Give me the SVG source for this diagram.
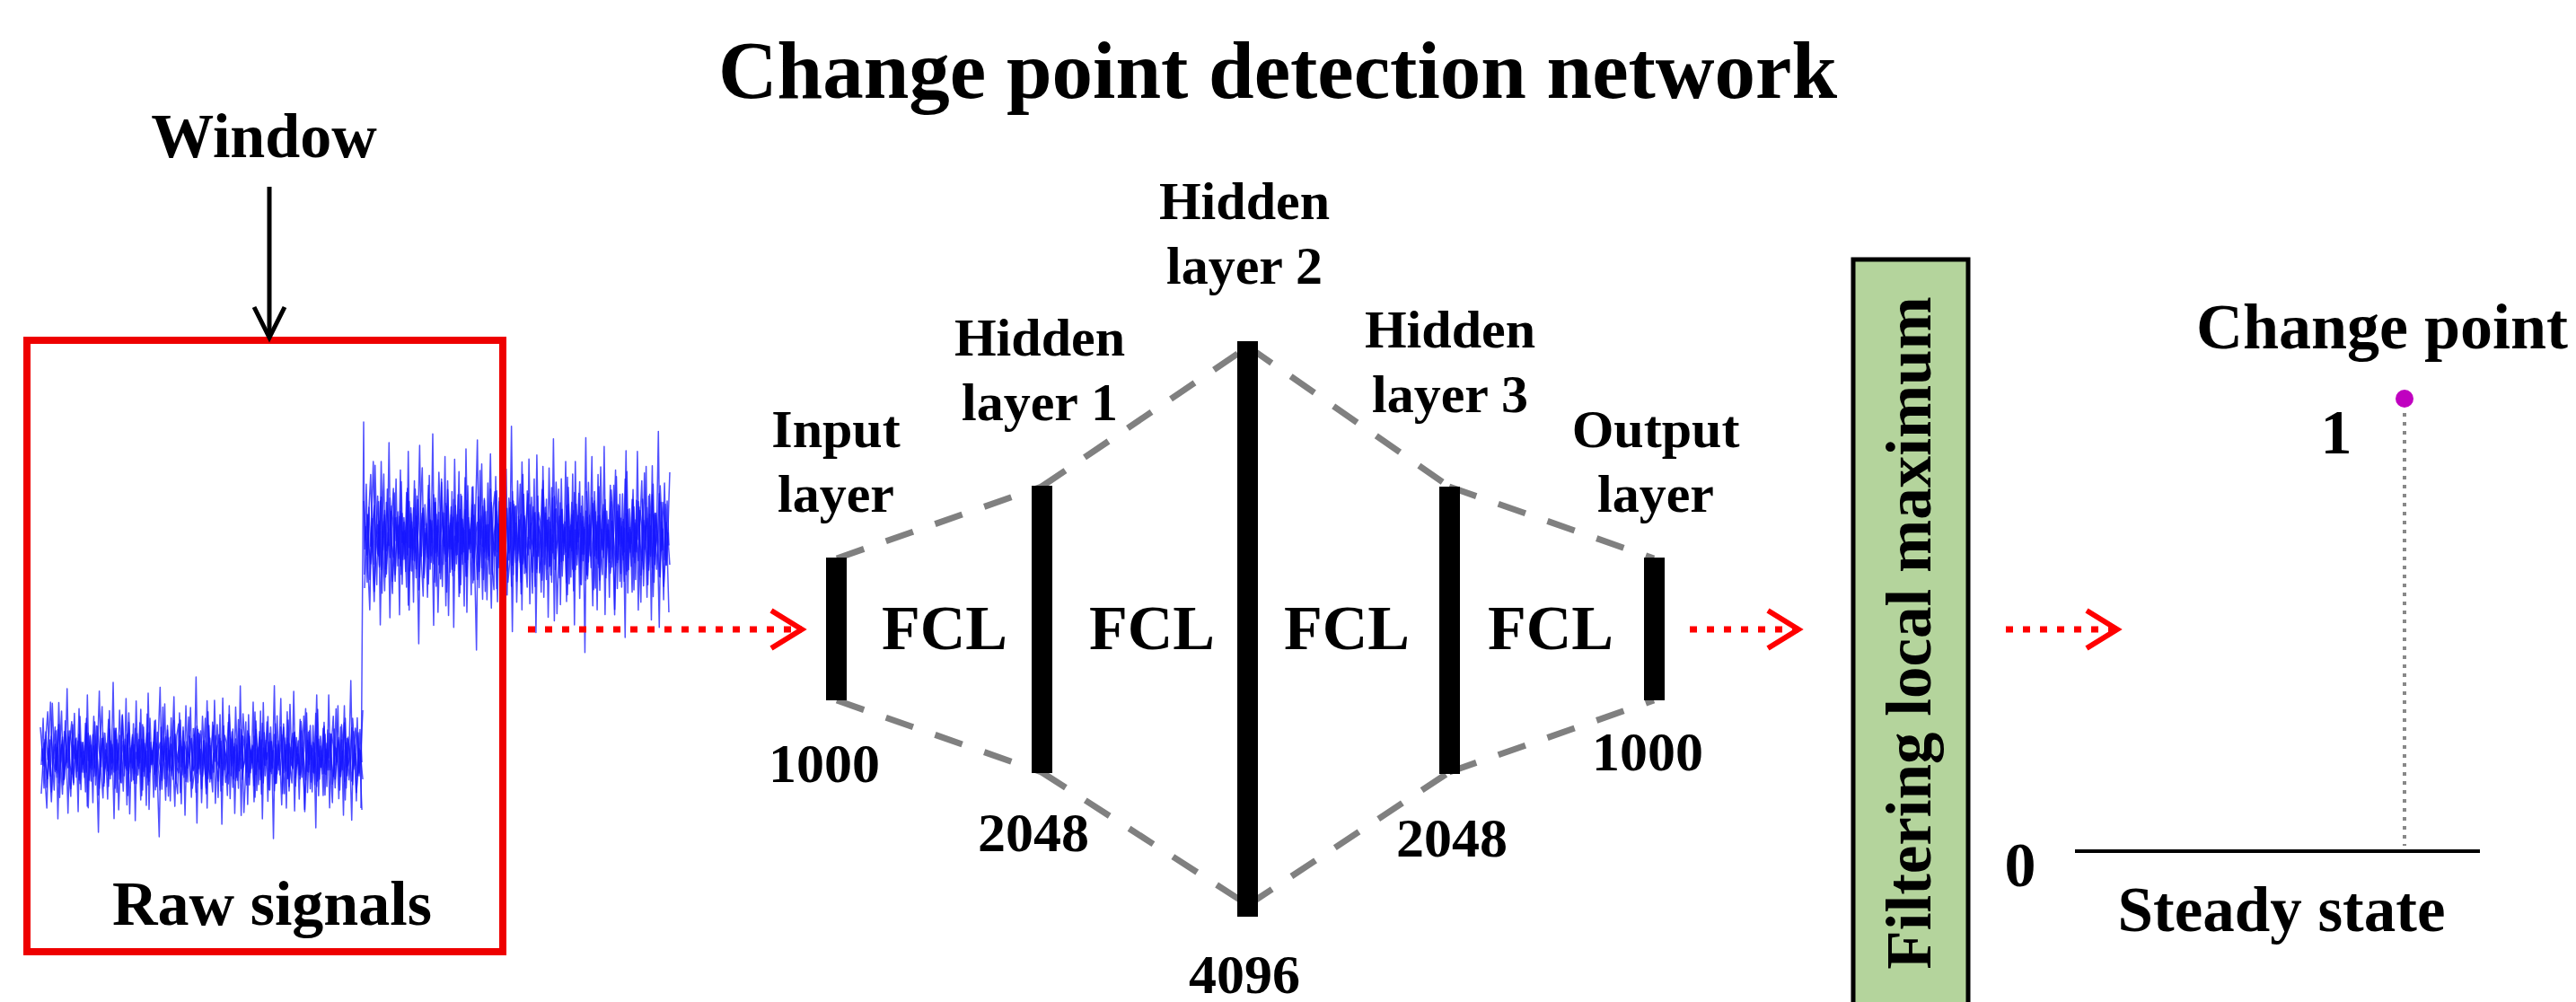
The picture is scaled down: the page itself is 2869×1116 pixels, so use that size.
<svg xmlns="http://www.w3.org/2000/svg" xmlns:xlink="http://www.w3.org/1999/xlink" width="2869" height="1116" viewBox="0 0 2869 1116">
<style>
text{font-family:"Liberation Serif","Times New Roman",serif;font-weight:bold;fill:#000;text-anchor:middle}
.big{font-size:70px}
.lbl{font-size:60px}
.num{font-size:62px}
.bar{fill:#000}
.dash{stroke:#808080;stroke-width:7;stroke-dasharray:32 26;fill:none}
.red{stroke:#ff0000;stroke-width:7;stroke-dasharray:8 11;fill:none}
.sig{fill:none;stroke:#1515ff;stroke-width:1.5;stroke-opacity:0.75;vector-effect:non-scaling-stroke;stroke-linejoin:round}
</style>
<defs>
<marker id="redHead" markerUnits="userSpaceOnUse" markerWidth="60" markerHeight="70" viewBox="-45 -35 60 70" refX="0" refY="0" orient="auto">
<path d="M-34,-21 L0,0 L-34,21" fill="none" stroke="#ff0000" stroke-width="6" stroke-dasharray="none"/>
</marker>
<marker id="blackHead" markerUnits="userSpaceOnUse" markerWidth="60" markerHeight="60" viewBox="-45 -30 60 60" refX="0" refY="0" orient="auto">
<path d="M-34,-17 L0,0 L-34,17" fill="none" stroke="#000" stroke-width="5"/>
</marker>
<polyline id="noise" class="sig" points="0,10 2,-42 4,25 6,58 8,-15 10,-60 12,5 14,38 16,-28 18,70 20,-8 22,-50 24,32 26,12 28,-75 30,20 32,45 34,-35 36,3 38,-20 40,62 42,-44 44,18 46,-5 48,40 50,-68 52,27 54,-12 56,52 58,-38 60,8 62,85 64,-22 66,-55 68,30 70,-3 72,48 74,-30 76,15 78,-82 80,36 82,-18 84,60 86,4 88,-46 90,22 92,-64 94,44 96,-9 98,28 100,-36 102,72 104,-25 106,14 108,-52 110,38 112,-14 114,55 116,-70 118,18 120,-6 122,46 124,-40 126,24 128,90 130,-32 132,6 134,-58 136,34 138,-20 140,50 142,-10 144,-66 146,26 148,42 150,-48 152,12 154,-28 156,66 158,-16 160,2 162,-54 164,36 166,20 168,-88 170,30 172,-24 174,52 176,-4 178,-42 180,58 182,-34 184,16 186,40 188,-62 190,10 192,28 194,-46 196,76 198,-18 200,-2 202,44 204,-56 206,22 208,-30 210,64 212,-12 214,36 216,-78 218,26 220,8 222,-38 224,54 226,-22 228,14 230,-60 232,46 234,-8 236,32 238,-50 240,70 242,-26 244,4 246,-44 248,38 250,-16 252,92 254,-36 256,20 258,-4 260,-64 262,42 264,-20 266,58 268,-40 270,12 272,30 274,-72 276,24 278,-10 280,48 282,-28 284,6 286,62 288,-48 290,18 292,-34 294,40 296,-14 298,80 300,-52 302,26 304,-6 306,44 308,-24 310,34 312,-68 314,16 316,52 318,-30 320,10 322,-56 324,38 326,-18 328,66 330,-42 332,22 334,-2 336,-84 338,32 340,-12 342,50 344,-26 346,8 348,60"/>
</defs>
<rect width="2869" height="1116" fill="#fff"/>

<g id="title"><text x="1423" y="109" style="font-size:91px">Change point detection network</text></g>

<g id="raw-signals">
<use xlink:href="#noise" href="#noise" transform="translate(46,842) scale(1.026,1)"/>
<use xlink:href="#noise" href="#noise" transform="translate(47,842) scale(1.026,-0.85)"/>
<use xlink:href="#noise" href="#noise" transform="translate(403,842) scale(-1.026,0.7)"/>
<use xlink:href="#noise" href="#noise" transform="translate(402,840) scale(-1.026,-0.5)"/>
<use xlink:href="#noise" href="#noise" transform="translate(47,844) scale(1.026,0.4)"/>
<use xlink:href="#noise" href="#noise" transform="translate(406,598) scale(0.974,1.4)"/>
<use xlink:href="#noise" href="#noise" transform="translate(407,598) scale(0.974,-1.2)"/>
<use xlink:href="#noise" href="#noise" transform="translate(745,598) scale(-0.974,0.95)"/>
<use xlink:href="#noise" href="#noise" transform="translate(744,600) scale(-0.974,-0.7)"/>
<use xlink:href="#noise" href="#noise" transform="translate(407,596) scale(0.974,0.55)"/>
<path class="sig" d="M402,900 L403,760 L405,470 L406,640"/>
<rect x="30" y="379" width="530" height="681" fill="none" stroke="#ee0000" stroke-width="8"/>
<text class="big" x="303" y="1030">Raw signals</text>
</g>

<g id="window"><text class="big" x="294" y="175">Window</text></g>

<g id="connectors">
<line x1="300" y1="208" x2="300" y2="376" stroke="#000" stroke-width="5" marker-end="url(#blackHead)"/>
<line class="dash" x1="932" y1="622" x2="1160" y2="542"/>
<line class="dash" x1="1160" y1="542" x2="1390" y2="386"/>
<line class="dash" x1="1390" y1="386" x2="1614" y2="542"/>
<line class="dash" x1="1614" y1="542" x2="1842" y2="622"/>
<line class="dash" x1="932" y1="780" x2="1160" y2="860"/>
<line class="dash" x1="1160" y1="860" x2="1390" y2="1008"/>
<line class="dash" x1="1390" y1="1008" x2="1614" y2="860"/>
<line class="dash" x1="1614" y1="860" x2="1842" y2="780"/>
<line class="red" x1="588" y1="701" x2="893" y2="701" marker-end="url(#redHead)"/>
<line class="red" x1="1882" y1="701" x2="2003" y2="701" marker-end="url(#redHead)"/>
<line class="red" x1="2234" y1="701" x2="2358" y2="701" marker-end="url(#redHead)"/>
</g>

<g id="input-layer">
<rect class="bar" x="920" y="621" width="23" height="159"/>
<text class="lbl" x="931" y="498">Input</text>
<text class="lbl" x="931" y="570">layer</text>
<text class="num" x="918" y="871">1000</text>
</g>
<g id="hidden-layer-1">
<rect class="bar" x="1149" y="541" width="23" height="320"/>
<text class="lbl" x="1158" y="396">Hidden</text>
<text class="lbl" x="1158" y="468">layer 1</text>
<text class="num" x="1151" y="948">2048</text>
</g>
<g id="hidden-layer-2">
<rect class="bar" x="1378" y="380" width="23" height="641"/>
<text class="lbl" x="1386" y="244">Hidden</text>
<text class="lbl" x="1386" y="316">layer 2</text>
<text class="num" x="1386" y="1106">4096</text>
</g>
<g id="hidden-layer-3">
<rect class="bar" x="1603" y="542" width="23" height="320"/>
<text class="lbl" x="1615" y="387">Hidden</text>
<text class="lbl" x="1615" y="459">layer 3</text>
<text class="num" x="1617" y="954">2048</text>
</g>
<g id="output-layer">
<rect class="bar" x="1831" y="621" width="23" height="159"/>
<text class="lbl" x="1844" y="498">Output</text>
<text class="lbl" x="1844" y="570">layer</text>
<text class="num" x="1835" y="858">1000</text>
</g>

<g id="fcl-labels">
<text class="big" x="1052" y="723">FCL</text>
<text class="big" x="1283" y="723">FCL</text>
<text class="big" x="1500" y="723">FCL</text>
<text class="big" x="1727" y="723">FCL</text>
</g>

<g id="filtering">
<rect x="2064" y="289" width="128" height="900" fill="#b4d49c" stroke="#000" stroke-width="5"/>
<text class="big" transform="translate(2150,705) rotate(-90)" x="0" y="0" style="font-size:71px">Filtering local maximum</text>
</g>

<g id="output-chart">
<line x1="2311" y1="948" x2="2762" y2="948" stroke="#000" stroke-width="4"/>
<line x1="2678" y1="460" x2="2678" y2="942" stroke="#888" stroke-width="4" stroke-dasharray="4 6"/>
<circle cx="2678" cy="444" r="10" fill="#c000c0"/>
<text x="2653" y="388" style="font-size:72px">Change point</text>
<text class="big" x="2602" y="505">1</text>
<text class="big" x="2250" y="987">0</text>
<text x="2541" y="1037" style="font-size:71px">Steady state</text>
</g>
</svg>
